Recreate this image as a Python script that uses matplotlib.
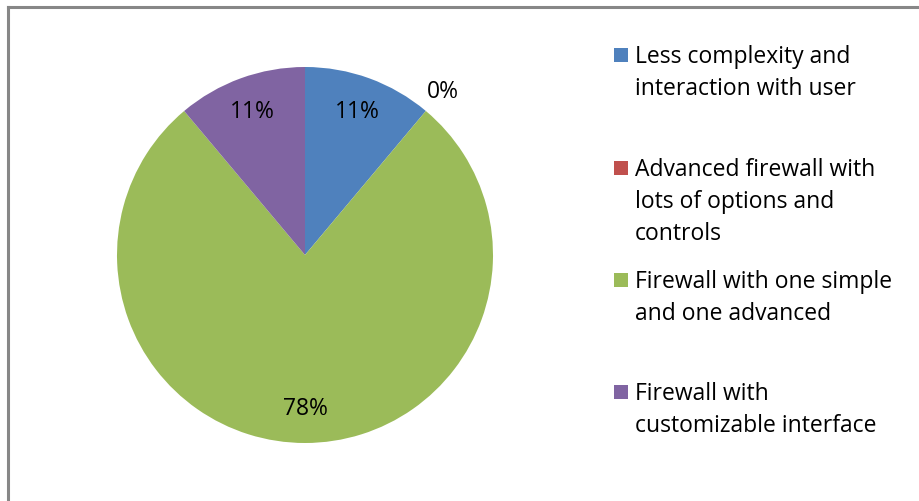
import matplotlib
matplotlib.use("Agg")
import matplotlib.pyplot as plt
from matplotlib.patches import Rectangle
from matplotlib.lines import Line2D

# Survey responses (counts) for preferred firewall interface
categories = [
    "Less complexity and\ninteraction with user",
    "Advanced firewall with\nlots of options and\ncontrols",
    "Firewall with one simple\nand one advanced",
    "Firewall with\ncustomizable interface",
]
counts = [1, 0, 7, 1]
colors = ["#4F81BD", "#C0504D", "#9BBB59", "#8064A2"]

W, H = 920, 502
plt.rcParams["font.family"] = ["Open Sans", "DejaVu Sans"]
FS = 16.5

fig = plt.figure(figsize=(W / 100, H / 100), dpi=100)

# Pie axes: centre at (305, 256) px, radius 188 px
cx, cy, r = 305, 256, 188
half = 200
ax = fig.add_axes([(cx - half) / W, (H - cy - half) / H, 2 * half / W, 2 * half / H])
wedges, texts, autotexts = ax.pie(
    counts,
    colors=colors,
    startangle=90,
    counterclock=False,
    radius=1.0,
    autopct=lambda p: f"{p:.0f}%",
    pctdistance=0.815,
    textprops={"fontsize": FS, "color": "black"},
    wedgeprops={"linewidth": 0},
)
lim = half / r
ax.set_xlim(-lim, lim)
ax.set_ylim(-lim, lim)
ax.set_aspect("equal")
ax.axis("off")

# Zero-sized slice: push its label outside the pie
for w, t, c in zip(wedges, autotexts, counts):
    if c == 0:
        x, y = t.get_position()
        t.set_position((x * 1.14 / 0.815, y * 1.14 / 0.815))

# Legend drawn beside the pie
first_baselines = [62.7, 175.7, 288.0, 400.0]
line_step = 32.3
for label, color, base in zip(categories, colors, first_baselines):
    fig.add_artist(Rectangle((614 / W, 1 - base / H), 14 / W, 14 / H,
                             transform=fig.transFigure, facecolor=color,
                             edgecolor="none"))
    for i, line in enumerate(label.split("\n")):
        fig.text(635 / W, 1 - (base + i * line_step) / H, line,
                 fontsize=FS, va="baseline", ha="left", color="black")

# Chart frame (top and left edges visible)
frame = dict(color="#878787", linewidth=2.2, transform=fig.transFigure)
fig.add_artist(Line2D([8 / W, 1.0], [1 - 8 / H, 1 - 8 / H], **frame))
fig.add_artist(Line2D([8 / W, 8 / W], [0.0, 1 - 8 / H], **frame))

fig.savefig("out.png", dpi=100)
